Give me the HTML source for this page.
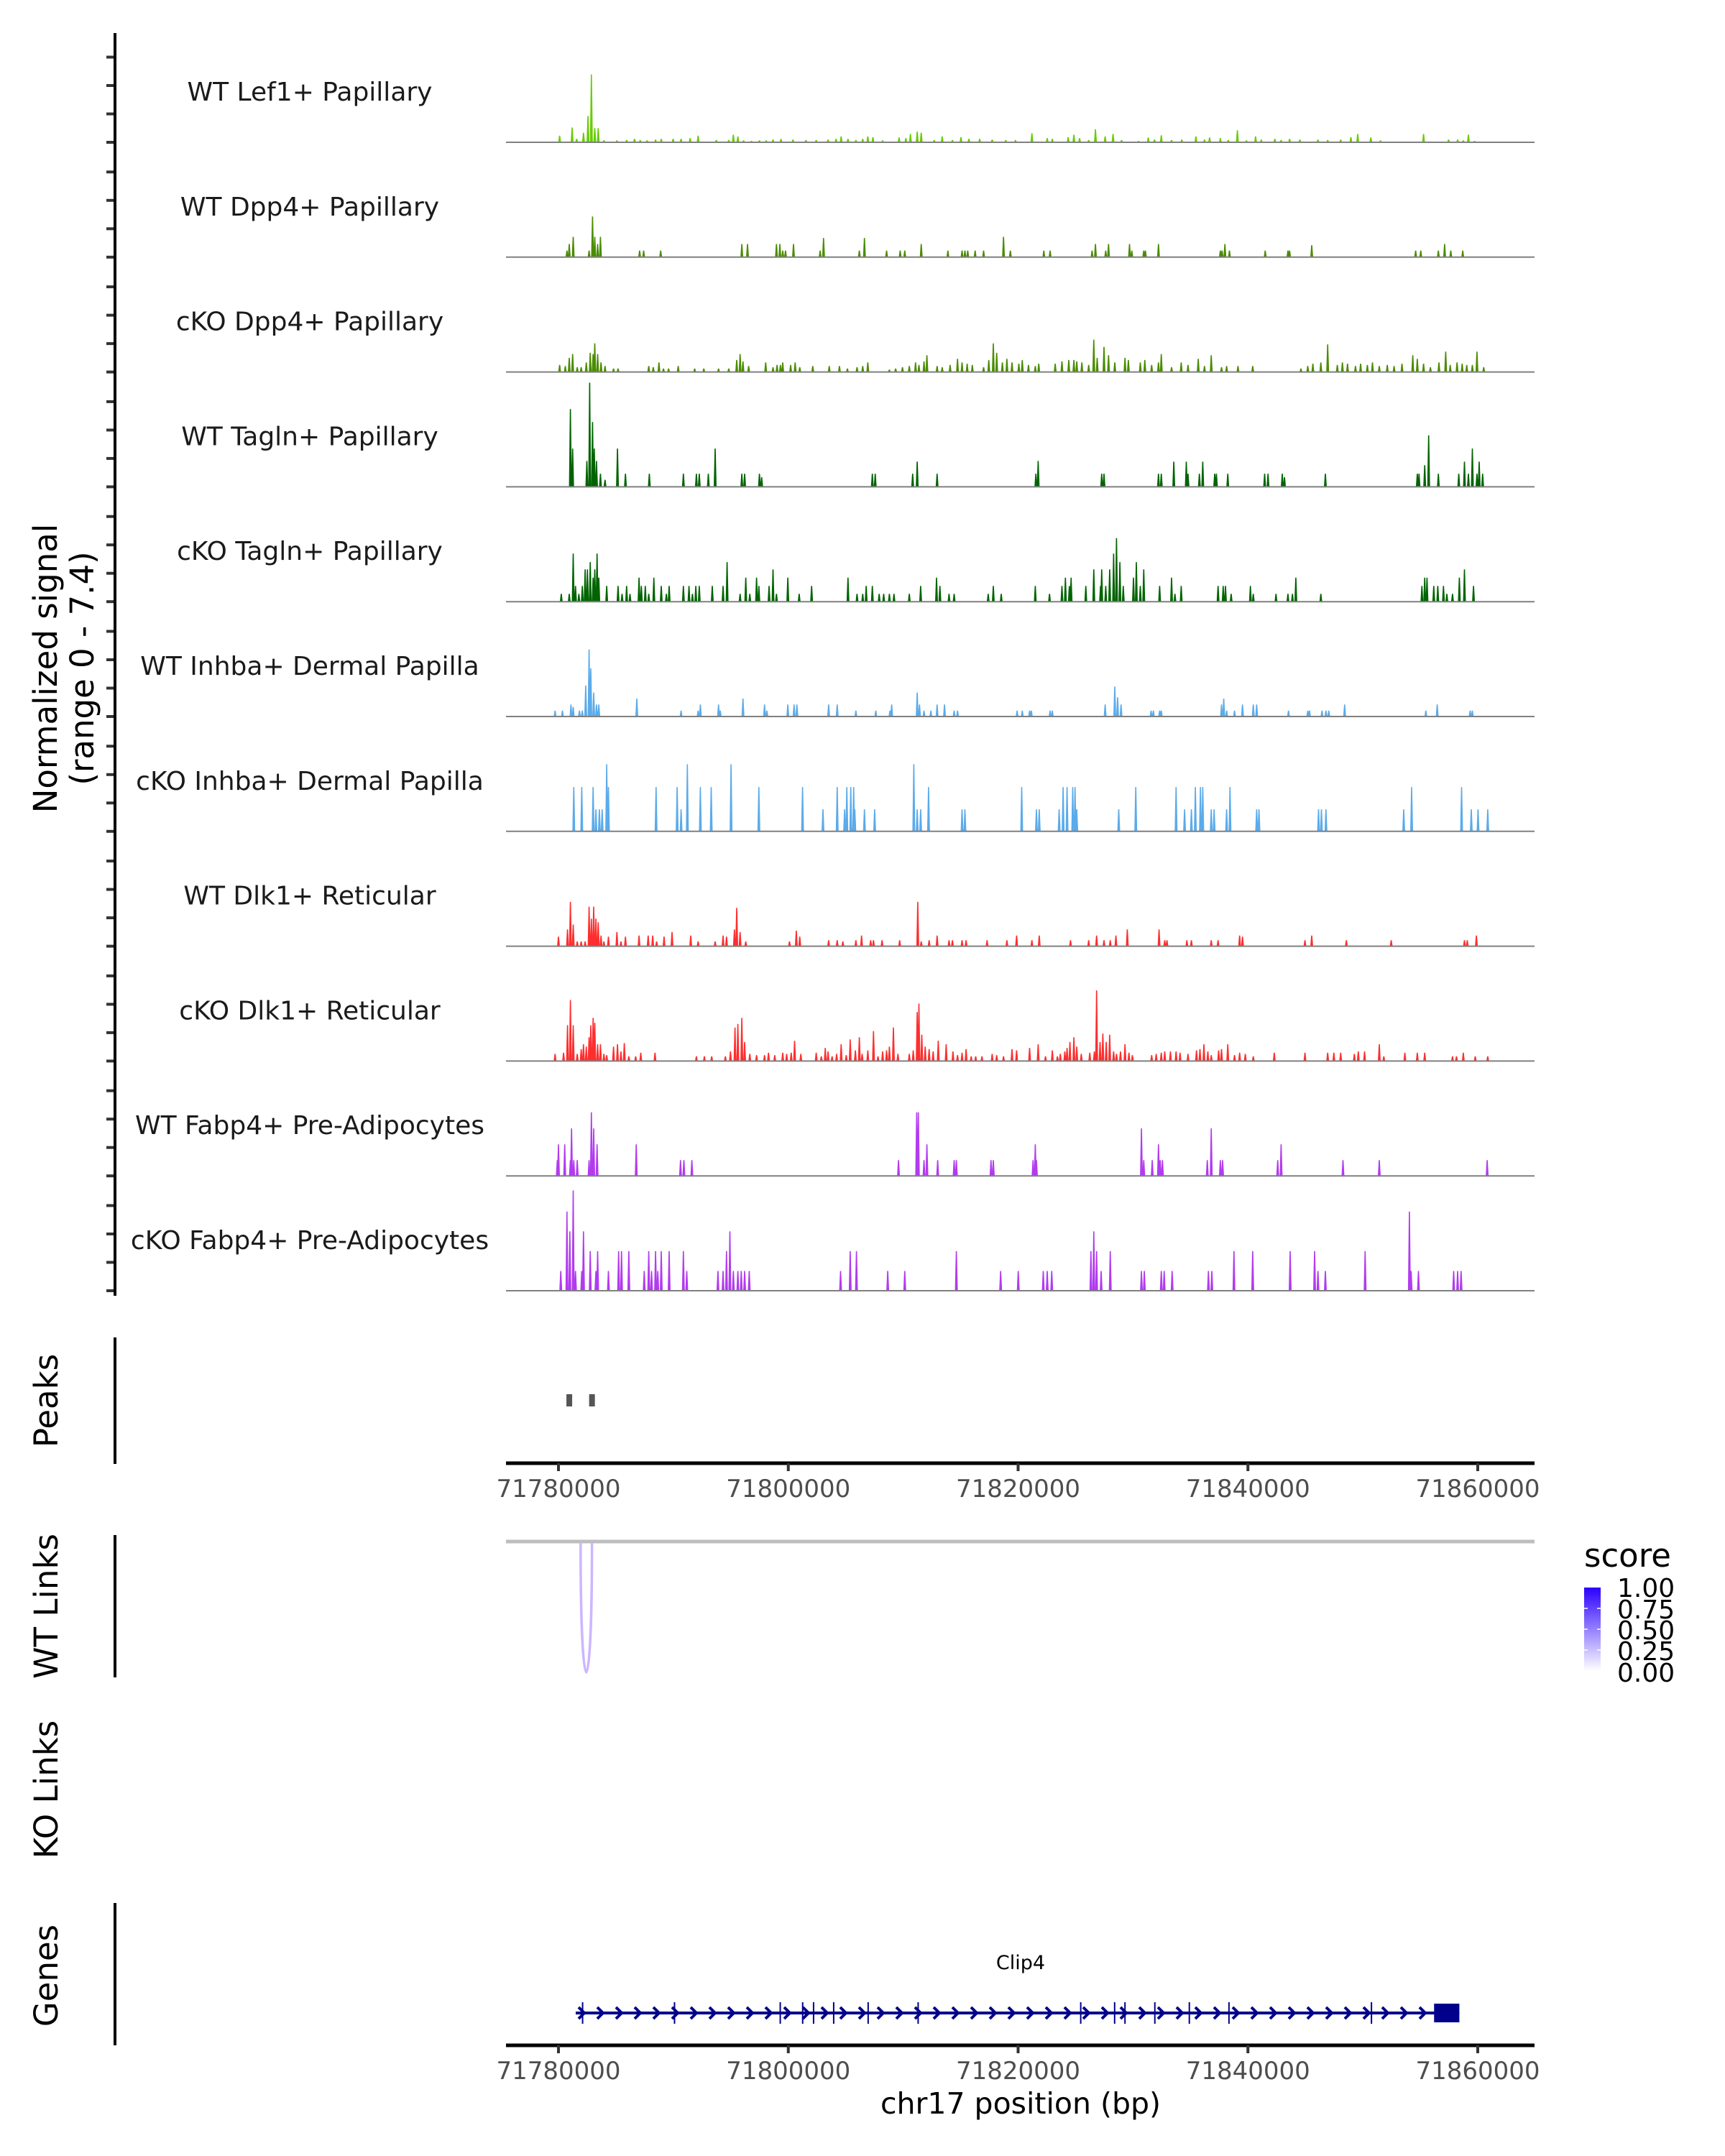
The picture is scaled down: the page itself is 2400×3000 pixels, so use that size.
<!DOCTYPE html>
<html><head><meta charset="utf-8">
<style>
html,body{margin:0;padding:0;background:#fff;}
svg{display:block;font-family:"DejaVu Sans","Liberation Sans",sans-serif;}
</style></head>
<body>
<svg id="chart" width="2400" height="3000" viewBox="0 0 2400 3000" xmlns="http://www.w3.org/2000/svg">
<defs>
<linearGradient id="scoreGrad" x1="0" y1="1" x2="0" y2="0">
<stop offset="0" stop-color="#ffffff"/><stop offset="1" stop-color="#2b00ff"/>
</linearGradient>
</defs>
<g id="tracks"></g>
<g id="axes"></g>
<text transform="translate(79,930) rotate(-90)" text-anchor="middle" font-size="45" fill="#000">Normalized signal</text>
<text transform="translate(130,930) rotate(-90)" text-anchor="middle" font-size="45" fill="#000">(range 0 - 7.4)</text>
<text transform="translate(80,1949) rotate(-90)" text-anchor="middle" font-size="45" fill="#000">Peaks</text>
<text transform="translate(80,2235) rotate(-90)" text-anchor="middle" font-size="45" fill="#000">WT Links</text>
<text transform="translate(80,2490) rotate(-90)" text-anchor="middle" font-size="45" fill="#000">KO Links</text>
<text transform="translate(80,2749) rotate(-90)" text-anchor="middle" font-size="45" fill="#000">Genes</text>
<g>
<text x="2204" y="2180" font-size="45" fill="#000">score</text>
<rect x="2204" y="2209" width="23" height="116" fill="url(#scoreGrad)"/>
<g stroke="#fff" stroke-width="1.5">
<line x1="2204" y1="2238" x2="2209" y2="2238"/><line x1="2222" y1="2238" x2="2227" y2="2238"/>
<line x1="2204" y1="2267" x2="2209" y2="2267"/><line x1="2222" y1="2267" x2="2227" y2="2267"/>
<line x1="2204" y1="2296" x2="2209" y2="2296"/><line x1="2222" y1="2296" x2="2227" y2="2296"/>
</g>
<g font-size="36" fill="#000">
<text x="2250" y="2222">1.00</text>
<text x="2250" y="2252">0.75</text>
<text x="2250" y="2281">0.50</text>
<text x="2250" y="2310">0.25</text>
<text x="2250" y="2340">0.00</text>
</g>
</g>
</svg>
<script>
// ---- data (positions in kb relative to chr17:71,780,000 ; values = normalized signal) ----
const trackNames = ["WT Lef1+ Papillary","WT Dpp4+ Papillary","cKO Dpp4+ Papillary","WT Tagln+ Papillary","cKO Tagln+ Papillary","WT Inhba+ Dermal Papilla","cKO Inhba+ Dermal Papilla","WT Dlk1+ Reticular","cKO Dlk1+ Reticular","WT Fabp4+ Pre-Adipocytes","cKO Fabp4+ Pre-Adipocytes"];
const trackColors = ["#66cc00","#4a8c00","#4a8c00","#006400","#006400","#5aabeb","#5aabeb","#ff2e2e","#ff2e2e","#b23bef","#b23bef"];
const wtLef1 = [[0.1,.47],[1.2,1.05],[1.6,.25],[2.2,.68],[2.6,1.86],[2.9,4.8],[3.2,1.0],[3.5,1.0],[4.0,.15],[5.15,.14],[6.0,.17],[6.7,.25],[7.2,.17],[7.8,.14],[8.55,.2],[9.05,.25],[10.1,.25],[10.8,.25],[11.6,.3],[12.3,.47],[13.9,.17],[15.0,.17],[15.4,.54],[15.8,.42],[16.3,.14],[17.0,.1],[17.7,.14],[18.3,.14],[18.9,.2],[19.6,.24],[20.65,.2],[21.8,.17],[22.7,.17],[23.75,.2],[24.45,.25],[24.9,.42],[25.5,.25],[26.2,.17],[26.8,.25],[27.25,.42],[27.7,.37],[28.55,.14],[30.0,.34],[30.6,.3],[31.0,.59],[31.6,.76],[31.95,.68],[33.1,.17],[33.8,.42],[34.7,.17],[35.45,.37],[36.15,.25],[37.1,.25],[38.2,.2],[39.4,.17],[40.25,.17],[41.7,.64],[43.05,.3],[43.5,.25],[44.9,.37],[45.4,.54],[45.9,.3],[46.7,.17],[47.3,.93],[48.15,.42],[48.85,.59],[49.6,.17],[51.1,.1],[51.95,.34],[52.5,.2],[53.1,.5],[54.0,.17],[54.9,.2],[56.15,.42],[56.9,.2],[57.35,.34],[58.3,.3],[59.0,.17],[59.8,.85],[60.6,.14],[61.4,.42],[61.9,.2],[63.1,.25],[63.65,.17],[64.4,.25],[65.3,.2],[66.9,.2],[67.75,.17],[68.9,.2],[69.8,.37],[70.4,.59],[71.55,.34],[72.4,.14],[76.2,.59],[78.4,.2],[79.2,.2],[79.7,.14],[80.15,.54],[80.7,.1]];
const wtDpp4 = [[0.75,.47],[0.95,.93],[1.3,1.44],[2.7,.47],[3.0,2.88],[3.2,1.44],[3.45,.93],[3.7,1.44],[7.15,.47],[7.5,.47],[9.0,.47],[16.15,.93],[16.65,.93],[19.2,.93],[19.5,.93],[19.75,.47],[20.0,.47],[20.7,.93],[23.05,.47],[23.35,1.36],[26.5,.47],[26.95,1.36],[28.9,.47],[30.1,.47],[30.5,.47],[31.95,.93],[34.3,.47],[35.55,.47],[35.8,.47],[36.05,.47],[36.7,.47],[37.45,.47],[39.2,1.44],[39.8,.47],[42.75,.47],[43.3,.47],[47.0,.47],[47.3,.93],[48.2,.47],[48.45,.93],[50.3,.93],[50.5,.47],[51.55,.47],[51.7,.47],[52.85,.93],[58.3,.47],[58.45,.47],[58.7,.93],[59.1,.47],[62.25,.47],[64.25,.47],[64.4,.47],[66.35,.85],[75.5,.47],[75.95,.47],[77.5,.47],[78.05,.93],[78.6,.47],[79.65,.47]];
const koDpp4 = [[0.1,.5],[0.6,.42],[0.95,1.0],[1.25,1.27],[1.65,.34],[2.0,.34],[2.45,.68],[2.8,1.36],[3.05,1.27],[3.2,2.03],[3.45,1.27],[3.75,.68],[4.1,.42],[4.85,.25],[5.25,.25],[7.95,.42],[8.35,.34],[8.85,.68],[9.25,.25],[9.7,.25],[10.55,.42],[12.0,.25],[12.8,.25],[14.1,.25],[15.0,.25],[15.7,.85],[16.0,1.27],[16.25,.76],[16.75,.42],[18.25,.68],[18.9,.34],[19.25,.5],[19.55,.5],[19.75,.68],[20.45,.5],[20.85,.68],[21.25,.34],[22.4,.42],[23.85,.42],[24.75,.42],[25.45,.25],[26.3,.34],[26.8,.42],[27.25,.68],[29.15,.17],[29.7,.25],[30.3,.34],[30.9,.42],[31.45,.68],[31.75,.5],[32.2,.76],[32.45,1.19],[33.35,.42],[33.8,.34],[34.5,.5],[35.15,.93],[35.55,.68],[36.0,.59],[36.45,.5],[37.45,.34],[37.9,.85],[38.3,2.03],[38.6,1.36],[39.1,.68],[39.5,.93],[39.95,.68],[40.55,.59],[40.85,.85],[41.4,.5],[42.0,.42],[42.3,.59],[43.75,.59],[44.35,.76],[44.95,.85],[45.4,.85],[45.65,.76],[46.1,.68],[46.7,.5],[47.15,2.29],[47.45,1.0],[48.05,1.78],[48.45,1.19],[49.0,.68],[49.9,1.0],[50.2,.85],[51.25,.68],[51.65,.85],[52.25,.5],[52.85,.68],[53.1,1.27],[54.0,.34],[54.85,.68],[55.45,.5],[56.35,.93],[56.9,.42],[57.5,1.19],[58.4,.34],[58.85,.42],[59.85,.42],[61.15,.42],[65.4,.25],[66.0,.42],[66.45,.59],[67.15,.68],[67.75,1.95],[68.6,.5],[69.05,.68],[69.5,.59],[70.2,.42],[70.65,.59],[71.25,.5],[71.7,.68],[72.3,.42],[73.0,.5],[73.6,.42],[74.3,.59],[75.25,1.19],[75.65,.93],[76.2,.59],[76.8,.34],[77.55,.68],[78.15,1.44],[78.55,.5],[79.15,.68],[79.6,.59],[80.0,.5],[80.5,.5],[80.9,1.44],[81.5,.34]];
const wtTagln = [[1.05,5.5],[1.25,2.71],[2.5,1.83],[2.75,7.37],[3.0,4.58],[3.15,2.71],[3.35,1.83],[3.7,.93],[4.1,.5],[5.2,2.71],[5.9,.93],[8.0,.93],[11.0,.93],[12.15,.93],[12.4,.93],[13.2,.93],[13.8,2.71],[16.15,.93],[16.4,.93],[17.7,.93],[17.9,.68],[27.65,.93],[27.9,.93],[31.2,.93],[31.6,1.78],[33.35,.93],[42.05,.93],[42.25,1.83],[47.85,.93],[48.05,.93],[52.85,.93],[53.1,.93],[54.2,1.78],[55.3,1.78],[55.45,.93],[56.45,.93],[56.75,1.78],[57.8,.93],[57.95,.93],[58.95,.93],[62.2,.93],[62.5,.93],[63.75,.93],[63.95,.68],[67.55,.93],[75.65,.93],[75.8,.93],[76.3,1.53],[76.65,3.64],[77.5,.93],[79.3,.93],[79.8,1.78],[80.15,.93],[80.5,2.71],[80.9,.93],[81.1,1.78],[81.4,.93]];
const koTagln = [[0.25,.56],[0.95,.56],[1.3,3.4],[1.5,1.12],[1.8,.56],[2.1,1.12],[2.35,2.29],[2.55,2.29],[2.8,2.8],[3.05,1.7],[3.2,2.29],[3.4,3.4],[3.55,1.7],[4.25,1.12],[5.25,1.12],[5.6,.56],[6.0,1.12],[6.3,.56],[7.1,1.7],[7.3,1.12],[7.65,1.12],[7.95,.56],[8.4,1.7],[9.05,1.12],[9.5,.56],[9.75,1.12],[11.0,1.12],[11.5,1.12],[11.8,.56],[12.1,1.12],[12.4,1.12],[13.55,1.12],[14.5,1.12],[14.85,2.8],[16.0,.56],[16.5,1.7],[16.85,.56],[17.45,1.7],[17.65,1.12],[18.55,1.12],[18.9,2.29],[19.2,.56],[20.2,1.7],[21.2,.56],[22.3,1.12],[25.5,1.7],[26.3,.56],[26.8,.56],[27.1,1.12],[27.65,1.12],[28.25,.56],[28.65,.56],[29.15,.56],[29.55,.56],[30.9,.56],[31.9,1.12],[33.3,1.7],[33.6,1.12],[34.4,.56],[34.85,.56],[37.85,.56],[38.3,1.12],[39.0,.56],[42.0,1.12],[43.25,.56],[44.35,1.12],[44.65,1.7],[45.0,1.12],[45.15,1.7],[46.45,1.12],[47.15,2.29],[47.75,1.12],[47.85,2.29],[48.2,1.12],[48.55,2.29],[48.9,3.4],[49.15,4.5],[49.45,2.8],[49.75,1.12],[50.65,1.7],[50.9,2.8],[51.25,1.12],[51.55,2.29],[52.95,1.12],[54.0,1.7],[54.3,.56],[54.85,1.12],[58.1,1.12],[58.55,1.12],[58.75,1.12],[59.25,.56],[60.95,1.12],[61.2,.56],[63.2,.56],[64.25,.56],[64.65,.56],[64.95,1.7],[67.15,.56],[76.05,1.12],[76.3,1.7],[76.5,1.7],[77.1,1.12],[77.45,1.12],[77.95,1.12],[78.25,.56],[78.75,.56],[79.35,1.7],[79.8,2.29],[80.6,1.12]];
const wtInhba = [[-0.3,.42],[0.35,.42],[1.1,.85],[1.3,.68],[1.85,.42],[2.1,.42],[2.4,2.2],[2.7,4.75],[2.85,3.4],[3.1,1.7],[3.35,.85],[3.55,.85],[6.9,1.27],[10.8,.42],[12.3,.42],[12.5,.85],[14.1,.85],[14.25,.42],[16.25,1.27],[18.15,.85],[18.35,.42],[20.2,.85],[20.75,.85],[21.0,.85],[23.8,.85],[24.55,.85],[26.2,.42],[27.95,.42],[29.2,.42],[29.35,.85],[31.6,1.7],[31.8,.85],[32.2,.42],[32.8,.42],[33.35,.85],[34.0,.85],[34.85,.42],[35.15,.42],[40.4,.42],[40.85,.42],[41.5,.42],[41.65,.42],[43.3,.42],[43.5,.42],[48.15,.85],[49.0,2.12],[49.25,1.36],[49.55,.85],[52.2,.42],[52.4,.42],[52.95,.42],[53.1,.42],[58.4,.85],[58.6,1.27],[58.85,.42],[59.55,.42],[60.25,.85],[61.2,.85],[61.5,.85],[64.3,.42],[66.0,.42],[66.15,.42],[67.25,.42],[67.6,.42],[67.85,.42],[69.25,.85],[76.4,.42],[77.4,.85],[80.3,.42],[80.5,.42]];
const koInhba = [[1.35,3.14],[2.05,3.14],[3.05,3.14],[3.3,1.56],[3.6,1.56],[3.85,1.56],[4.25,4.75],[4.4,3.14],[8.6,3.14],[10.45,3.14],[10.8,1.56],[11.35,4.75],[12.5,3.14],[13.45,3.14],[15.2,4.75],[17.65,3.14],[21.5,3.14],[23.3,1.56],[24.55,3.14],[25.2,1.56],[25.4,3.14],[25.75,3.14],[26.0,3.14],[26.1,1.56],[26.95,1.56],[27.85,1.56],[31.3,4.75],[31.6,1.56],[31.9,1.56],[32.6,3.14],[35.55,1.56],[35.8,1.56],[40.8,3.14],[42.1,1.56],[42.35,1.56],[44.1,1.56],[44.45,3.14],[44.8,3.14],[45.3,3.14],[45.5,3.14],[45.65,1.56],[49.35,1.56],[50.85,3.14],[54.4,3.14],[55.15,1.56],[55.75,1.56],[56.1,3.14],[56.55,3.14],[56.75,3.14],[57.5,1.56],[57.75,1.56],[58.85,1.56],[59.15,3.14],[61.5,1.56],[61.7,1.56],[66.95,1.56],[67.2,1.56],[67.6,1.56],[74.45,1.56],[75.15,3.14],[79.55,3.14],[80.4,1.56],[81.0,1.56],[81.85,1.56]];
const wtDlk1 = [[0.0,.68],[0.8,1.19],[1.05,3.14],[1.3,1.53],[1.65,.34],[2.0,.34],[2.35,.34],[2.7,2.8],[2.9,1.95],[3.1,2.8],[3.3,1.95],[3.5,1.7],[3.75,.76],[4.0,.34],[4.4,.68],[5.15,1.0],[5.5,.34],[5.9,.68],[7.1,.76],[7.9,.76],[8.3,.76],[8.65,.34],[9.3,.68],[10.0,1.0],[11.65,.76],[12.3,.34],[13.8,.34],[14.5,.76],[14.8,.68],[15.5,1.19],[15.7,2.71],[16.0,1.0],[16.5,.34],[20.35,.34],[20.95,1.1],[21.25,.68],[23.8,.42],[24.55,.42],[25.05,.34],[26.2,.42],[26.7,.76],[27.5,.42],[27.75,.42],[28.5,.42],[30.05,.42],[31.65,3.14],[31.95,.34],[32.65,.42],[33.35,.76],[34.4,.42],[34.7,.42],[35.55,.42],[35.9,.42],[37.75,.42],[39.5,.42],[40.35,.76],[41.7,.42],[42.35,.76],[45.1,.42],[46.7,.42],[47.4,.76],[48.05,.42],[48.6,.42],[49.1,.76],[50.1,1.19],[52.9,1.19],[53.4,.42],[53.6,.42],[55.35,.42],[55.75,.42],[57.5,.42],[58.1,.42],[60.0,.76],[60.25,.68],[65.75,.42],[66.35,.76],[69.4,.42],[73.35,.42],[79.8,.42],[80.05,.42],[80.85,.76]];
const koDlk1 = [[-0.3,.51],[0.45,.59],[0.8,2.54],[1.05,4.32],[1.3,2.54],[1.65,.51],[2.0,.85],[2.2,1.19],[2.45,1.02],[2.7,1.69],[2.85,2.54],[3.05,3.05],[3.2,2.71],[3.45,1.19],[3.7,1.19],[4.0,.51],[4.25,.42],[4.85,1.02],[5.2,1.19],[5.5,.68],[5.8,1.27],[6.2,.34],[6.8,.34],[7.25,.59],[8.5,.59],[12.15,.34],[12.85,.34],[13.5,.34],[14.7,.34],[15.15,.68],[15.55,2.37],[15.8,2.63],[16.15,3.05],[16.4,1.36],[16.85,.51],[17.45,.42],[18.15,.42],[18.5,.59],[19.05,.42],[19.75,.59],[20.1,.51],[20.5,.59],[20.8,1.44],[21.35,.51],[22.7,.59],[23.15,.34],[23.5,.93],[23.75,.68],[24.1,.34],[24.5,.51],[24.9,1.19],[25.35,.42],[25.7,1.53],[26.15,.76],[26.5,1.69],[26.75,.51],[27.25,.76],[27.75,2.12],[28.15,.34],[28.55,.68],[28.9,.76],[29.15,1.02],[29.5,2.37],[29.9,.51],[30.9,.51],[31.25,.76],[31.6,3.47],[31.75,4.07],[32.0,1.86],[32.3,1.02],[32.65,.85],[33.0,.68],[33.45,1.44],[34.15,1.19],[34.75,.68],[35.15,.42],[35.55,.59],[35.9,.85],[36.35,.34],[36.75,.34],[37.3,.34],[38.2,.51],[38.6,.42],[39.2,.34],[39.95,.85],[40.35,.76],[41.5,.93],[42.25,1.19],[42.9,.34],[43.5,.76],[43.95,.34],[44.2,.51],[44.6,.68],[44.8,.93],[45.05,1.36],[45.4,1.69],[45.65,1.02],[46.05,.51],[46.8,.59],[47.2,.68],[47.4,5.0],[47.7,1.36],[47.95,1.95],[48.25,1.36],[48.55,1.86],[48.9,.68],[49.15,.51],[49.5,.68],[49.9,1.19],[50.25,.59],[50.55,.42],[52.25,.42],[52.65,.51],[53.1,.59],[53.4,.68],[53.9,.68],[54.4,.68],[54.75,.59],[55.45,.51],[56.2,.76],[56.5,.85],[56.85,1.19],[57.2,.68],[57.5,.42],[58.15,.76],[58.4,.85],[58.95,1.19],[59.55,.42],[60.0,.59],[60.5,.51],[61.2,.34],[63.05,.59],[65.75,.59],[67.75,.59],[68.3,.59],[68.9,.59],[70.1,.51],[70.45,.68],[71.0,.68],[72.3,1.19],[72.7,.34],[74.55,.59],[75.65,.59],[76.3,.59],[78.75,.34],[79.1,.34],[79.7,.59],[80.75,.34],[81.85,.34]];
const wtFabp4 = [[-0.1,1.12],[0.0,2.24],[0.55,2.24],[1.05,1.12],[1.15,3.36],[1.35,1.12],[1.65,1.12],[2.7,1.12],[2.9,4.5],[3.1,3.36],[3.4,2.24],[6.85,2.24],[10.75,1.12],[11.05,1.12],[11.75,1.12],[29.95,1.12],[31.55,4.5],[31.7,4.5],[32.2,1.12],[32.45,2.24],[33.4,1.12],[34.85,1.12],[35.05,1.12],[38.1,1.12],[38.3,1.12],[41.8,1.12],[42.0,2.24],[42.1,1.12],[51.35,3.36],[51.55,1.12],[52.3,1.12],[52.85,2.24],[53.0,1.12],[53.2,1.12],[57.15,1.12],[57.5,3.36],[58.3,1.12],[58.5,1.12],[63.35,1.12],[63.65,2.24],[69.1,1.12],[72.3,1.12],[81.8,1.12]];
const koFabp4 = [[0.2,1.4],[0.75,5.6],[1.0,4.2],[1.3,7.1],[1.5,1.4],[2.05,1.4],[2.2,4.2],[2.8,2.8],[3.3,1.4],[3.45,2.8],[4.4,1.4],[5.3,2.8],[5.55,2.8],[6.2,2.8],[7.55,1.4],[7.95,2.8],[8.2,1.4],[8.55,2.8],[8.75,1.4],[9.05,2.8],[9.75,2.8],[11.0,2.8],[11.3,1.4],[14.05,1.4],[14.5,1.4],[14.8,2.8],[15.1,4.2],[15.4,1.4],[15.8,1.4],[16.1,1.4],[16.4,1.4],[16.8,1.4],[24.85,1.4],[25.7,2.8],[26.25,2.8],[29.0,1.4],[30.5,1.4],[35.05,2.8],[38.95,1.4],[40.5,1.4],[42.7,1.4],[43.05,1.4],[43.45,1.4],[46.9,2.8],[47.15,4.2],[47.4,2.8],[47.8,1.4],[48.6,2.8],[51.35,1.4],[51.6,1.4],[53.1,1.4],[53.35,1.4],[54.05,1.4],[57.25,1.4],[57.55,1.4],[59.5,2.8],[61.15,2.8],[64.45,2.8],[66.6,2.8],[66.9,1.4],[67.55,1.4],[71.05,2.8],[74.95,5.6],[75.1,1.4],[75.75,1.4],[78.85,1.4],[79.2,1.4],[79.5,1.4]];
const trackData = [wtLef1, wtDpp4, koDpp4, wtTagln, koTagln, wtInhba, koInhba, wtDlk1, koDlk1, wtFabp4, koFabp4];
const xTicks = [71780000, 71800000, 71820000, 71840000, 71860000];
const peakStarts = [0.7, 2.7];
const peakEnds = [1.1, 3.1];
const linkStart = [1.95];
const linkEnd = [2.95];
const linkScore = [0.25];
const geneStartKb = 1.5;
const geneEndKb = 78.4;
const utrStartKb = 76.2;
const exonKb = [2.1,10.1,19.3,21.25,22.2,23.95,26.95,31.3,45.45,48.4,49.3,51.9,54.9,58.35,70.75];

// ---- scales ----
const ORIGIN = 71780000;
const X0 = 777, PX_PER_BP = 319.75/20000;
const X_LEFT = 704, X_RIGHT = 2135;
const DATA_X_SCALE = 0.988;
function xKb(kb){ return X0 + kb*1000*PX_PER_BP; }
function xData(kb){ return X0 + kb*1000*PX_PER_BP*DATA_X_SCALE; }
function xBp(bp){ return X0 + (bp-ORIGIN)*PX_PER_BP; }
const BASE0 = 198, TRACK_STEP = 159.8, SIG_MAX = 7.4, TRACK_H = 145.5;
function yVal(v, i){ return BASE0 + i*TRACK_STEP - v/SIG_MAX*TRACK_H; }

const NS = "http://www.w3.org/2000/svg";
function mk(tag, attrs, parent){ const e=document.createElementNS(NS,tag); for(const k in attrs) e.setAttribute(k,attrs[k]); parent.appendChild(e); return e; }
const svg = document.getElementById('chart');
const tracksG = document.getElementById('tracks');
const axesG = document.getElementById('axes');

// ---- tracks ----
trackData.forEach((data, i) => {
  const base = BASE0 + i*TRACK_STEP;
  const g = mk('g', {}, tracksG);
  
  
  const lbl = mk('text', {x:431, y:base-58, 'text-anchor':'middle', 'font-size':36, fill:'#1a1a1a'}, g);
  lbl.textContent = trackNames[i];
  
  
  let d = '';
  data.forEach(([kb, v]) => {
    const x = xData(kb), y = yVal(v, i);
    d += `M${(x-2).toFixed(1)},${base} L${(x-0.8).toFixed(1)},${y.toFixed(1)} L${(x+0.8).toFixed(1)},${y.toFixed(1)} L${(x+2).toFixed(1)},${base} Z `;
  });
  const p = mk('path', {d:d, fill:trackColors[i]}, g);
  
  
  const bl = mk('line', {x1:X_LEFT, x2:X_RIGHT, y1:base, y2:base, stroke:'#808080', 'stroke-width':2}, g);
  
  
  for (let k=0;k<4;k++){
    const ty = base - k*39.5;
    const t = mk('line', {x1:148, x2:160, y1:ty, y2:ty, stroke:'#333', 'stroke-width':4}, axesG);
    
    
  }
});
const yAxis = mk('line', {x1:160, x2:160, y1:46, y2:1803, stroke:'#000', 'stroke-width':4}, axesG);



// ---- peaks ----
const pAx = mk('line', {x1:160,x2:160,y1:1861,y2:2037,stroke:'#000','stroke-width':4}, axesG);


peakStarts.forEach((s, j) => {
  const r = mk('rect', {x:xData(s), y:1940, width:Math.max(8, xData(peakEnds[j])-xData(s)), height:17, fill:'#555'}, svg);
  
  
});

// ---- x axes ----
function xAxis(y, name){
  const l = mk('line', {x1:X_LEFT, x2:X_RIGHT, y1:y, y2:y, stroke:'#000', 'stroke-width':5}, axesG);
  
  
  xTicks.forEach(t => {
    const x = xBp(t);
    const tk = mk('line', {x1:x, x2:x, y1:y, y2:y+11, stroke:'#333', 'stroke-width':4}, axesG);
    
    
    const tl = mk('text', {x:x, y:y+47, 'text-anchor':'middle', 'font-size':34, fill:'#4d4d4d'}, axesG);
    tl.textContent = String(t);
    
    
  });
}
xAxis(2036, 'peaks-x-axis');
xAxis(2846, 'genes-x-axis');
const xt = mk('text', {x:1420, y:2941, 'text-anchor':'middle', 'font-size':41, fill:'#000'}, svg);
xt.textContent = 'chr17 position (bp)';



// ---- links ----
const lAx = mk('line', {x1:160,x2:160,y1:2136,y2:2334,stroke:'#000','stroke-width':4}, axesG);


const gl = mk('line', {x1:X_LEFT, x2:X_RIGHT, y1:2145, y2:2145, stroke:'#bebebe', 'stroke-width':5}, svg);


linkStart.forEach((s, j) => {
  const x1 = xData(s), x2 = xData(linkEnd[j]);
  const arc = mk('path', {d:`M${x1},2147 C${x1},2387 ${x2},2387 ${x2},2147`, fill:'none', stroke:'#cdb6ff', 'stroke-width':3.5}, svg);
  
  
});

// ---- genes ----
const gAx = mk('line', {x1:160,x2:160,y1:2648,y2:2846,stroke:'#000','stroke-width':4}, axesG);


const gg = mk('g', {}, svg);


const gy = 2801;
const gx1 = xKb(geneStartKb), gx2 = xKb(geneEndKb);
mk('line', {x1:gx1, x2:gx2, y1:gy, y2:gy, stroke:'#00008b', 'stroke-width':4}, gg);
let ad = '';
for (let x = gx1 + 8; x < xKb(utrStartKb) - 8; x += 26) {
  ad += `M${x-4},${gy-8} L${x+4},${gy} L${x-4},${gy+8} `;
}
mk('path', {d:ad, fill:'none', stroke:'#00008b', 'stroke-width':4}, gg);
exonKb.forEach(k => {
  const ex = mk('line', {x1:xKb(k), x2:xKb(k), y1:gy-15, y2:gy+15, stroke:'#00008b', 'stroke-width':2}, gg);
  
  
});
const utr = mk('rect', {x:xKb(utrStartKb), y:gy-13, width:gx2-xKb(utrStartKb), height:26, fill:'#00008b'}, gg);


const gname = mk('text', {x:1420, y:2740, 'text-anchor':'middle', 'font-size':27, fill:'#000'}, gg);
gname.textContent = 'Clip4';


</script>
</body></html>
